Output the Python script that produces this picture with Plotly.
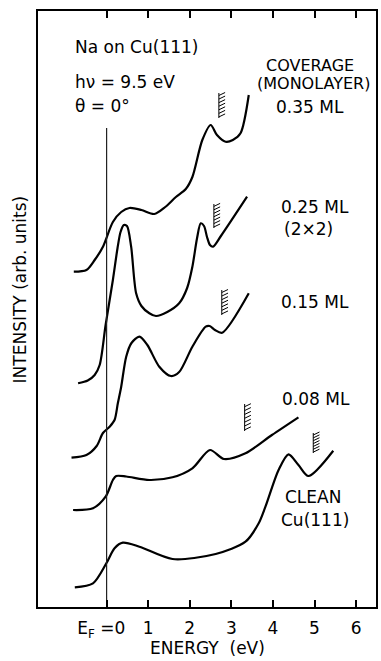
import plotly.graph_objects as go

# ---- data (energy in eV, intensity in arbitrary units) ----
clean_E = [-0.765, -0.328, -0.007, 0.191, 0.390, 0.789, 1.585, 2.623, 3.340, 3.658, 3.82, 4.136, 4.375, 4.614, 4.853, 5.451]
clean_I = [0.197, 0.237, 0.437, 0.587, 0.643, 0.603, 0.48, 0.53, 0.653, 0.837, 1.003, 1.37, 1.527, 1.42, 1.31, 1.563]

ml008_E = [-0.806, -0.328, -0.024, 0.151, 0.232, 0.471, 1.028, 1.585, 2.063, 2.486, 2.821, 3.340, 3.976, 4.614]
ml008_I = [0.97, 0.987, 1.103, 1.27, 1.31, 1.305, 1.27, 1.297, 1.387, 1.57, 1.48, 1.537, 1.72, 1.897]

ml015_E = [-0.844, -0.485, -0.239, -0.088, 0.072, 0.191, 0.270, 0.351, 0.471, 0.598, 0.789, 0.980, 1.267, 1.547,
           1.745, 2.063, 2.383, 2.479, 2.606, 2.780, 3.419]
ml015_I = [1.493, 1.52, 1.61, 1.74, 1.803, 1.87, 2.037, 2.203, 2.503, 2.64, 2.703, 2.62, 2.403, 2.31,
           2.35, 2.603, 2.803, 2.81, 2.77, 2.743, 3.137]

ml025_E = [-0.686, -0.454, -0.287, -0.167, -0.024, 0.151, 0.263, 0.335, 0.414, 0.490, 0.59, 0.710, 0.837, 1.028,
           1.188, 1.458, 1.745, 1.937, 2.063, 2.176, 2.264, 2.343, 2.415, 2.486, 2.558, 2.749, 3.378]
ml025_I = [2.237, 2.265, 2.32, 2.42, 2.82, 3.27, 3.59, 3.75, 3.82, 3.81, 3.603, 3.137, 3.01, 2.937,
           2.91, 2.95, 3.037, 3.19, 3.403, 3.69, 3.837, 3.81, 3.70, 3.62, 3.603, 3.71, 4.103]

ml035_E = [-0.789, -0.485, -0.287, -0.088, 0.151, 0.351, 0.55, 0.837, 1.147, 1.41, 1.666, 1.905, 2.063, 2.302, 2.503, 2.654, 2.862, 3.036, 3.22, 3.419]
ml035_I = [3.353, 3.37, 3.47, 3.603, 3.85, 3.95, 3.99, 3.97, 3.93, 4.0, 4.1, 4.18, 4.30, 4.67, 4.82, 4.72, 4.653, 4.67, 4.737, 5.12]

# hatched band-edge markers: energy of left edge, lower and upper intensity
hatch_E = [2.70, 2.58, 2.77, 3.32, 4.97]
hatch_lo = [4.89, 3.79, 2.92, 1.76, 1.54]
hatch_hi = [5.14, 4.03, 3.17, 2.03, 1.74]

ef_E = [0, 0]
ef_I = [0, 4.79]

tick_vals = [0, 1, 2, 3, 4, 5, 6]
tick_text = ["E<sub>F</sub> =0&nbsp;&nbsp;", "1", "2", "3", "4", "5", "6"]

FONT = "DejaVu Sans"
fig = go.Figure()

for E, I in [(clean_E, clean_I), (ml008_E, ml008_I), (ml015_E, ml015_I),
             (ml025_E, ml025_I), (ml035_E, ml035_I)]:
    fig.add_trace(go.Scatter(x=E, y=I, mode="lines",
                             line=dict(color="black", width=2.2, shape="spline", smoothing=0.8),
                             hoverinfo="skip", showlegend=False))

fig.add_trace(go.Scatter(x=ef_E, y=ef_I, mode="lines",
                         line=dict(color="#222", width=1.2), showlegend=False, hoverinfo="skip"))

# hatch symbols
hx, hy = [], []
n_ticks = 7
for e, lo, hi in zip(hatch_E, hatch_lo, hatch_hi):
    hx += [e, e, None]
    hy += [lo, hi, None]
    for k in range(n_ticks):
        yy = lo + (hi - lo) * (k + 0.3) / n_ticks
        hx += [e, e + 0.15, None]
        hy += [yy, yy + 0.03, None]
fig.add_trace(go.Scatter(x=hx, y=hy, mode="lines", line=dict(color="black", width=1),
                         showlegend=False, hoverinfo="skip"))

def ann(text, x, y, xanchor="center", size=17):
    fig.add_annotation(x=x, y=y, text=text, showarrow=False, xanchor=xanchor,
                       yanchor="middle", font=dict(family=FONT, size=size, color="black"))

ann("Na on Cu(111)", -0.82, 5.60, "left")
ann("h\u03bd = 9.5 eV", -0.82, 5.25, "left")
ann("\u03b8 = 0\u00b0", -0.82, 5.01, "left")
ann("COVERAGE", 4.88, 5.42, size=16)
ann("(MONOLAYER)", 4.97, 5.235, size=16)
ann("0.35 ML", 4.90, 5.00)
ann("0.25 ML", 5.00, 4.00)
ann("(2\u00d72)", 4.85, 3.78)
ann("0.15 ML", 5.02, 3.05)
ann("0.08 ML", 5.04, 2.08)
ann("CLEAN", 4.97, 1.10)
ann("Cu(111)", 5.00, 0.87)

fig.add_annotation(xref="paper", yref="paper", x=0.5, y=-0.069, text="ENERGY  (eV)",
                   showarrow=False, xanchor="center", yanchor="middle",
                   font=dict(family=FONT, size=17, color="black"))
fig.add_annotation(xref="paper", yref="paper", x=-0.053, y=0.533, text="INTENSITY (arb. units)",
                   showarrow=False, textangle=-90, xanchor="center", yanchor="middle",
                   font=dict(family=FONT, size=17, color="black"))

fig.update_xaxes(range=[-1.65, 6.479], showgrid=False, zeroline=False,
                 showline=True, linewidth=2, linecolor="black", mirror="ticks",
                 ticks="inside", ticklen=7, tickwidth=1.5, tickcolor="black",
                 tickvals=tick_vals, ticktext=tick_text, ticklabelstandoff=5,
                 tickfont=dict(family=FONT, size=17, color="black"))
fig.update_yaxes(range=[0, 5.96], showgrid=False, zeroline=False,
                 showline=True, linewidth=2, linecolor="black", mirror=True,
                 ticks="", showticklabels=False)

fig.update_layout(width=381, height=661, margin=dict(l=38, r=3, t=11, b=54),
                  plot_bgcolor="white", paper_bgcolor="white", showlegend=False)

fig.write_html("out.html")
